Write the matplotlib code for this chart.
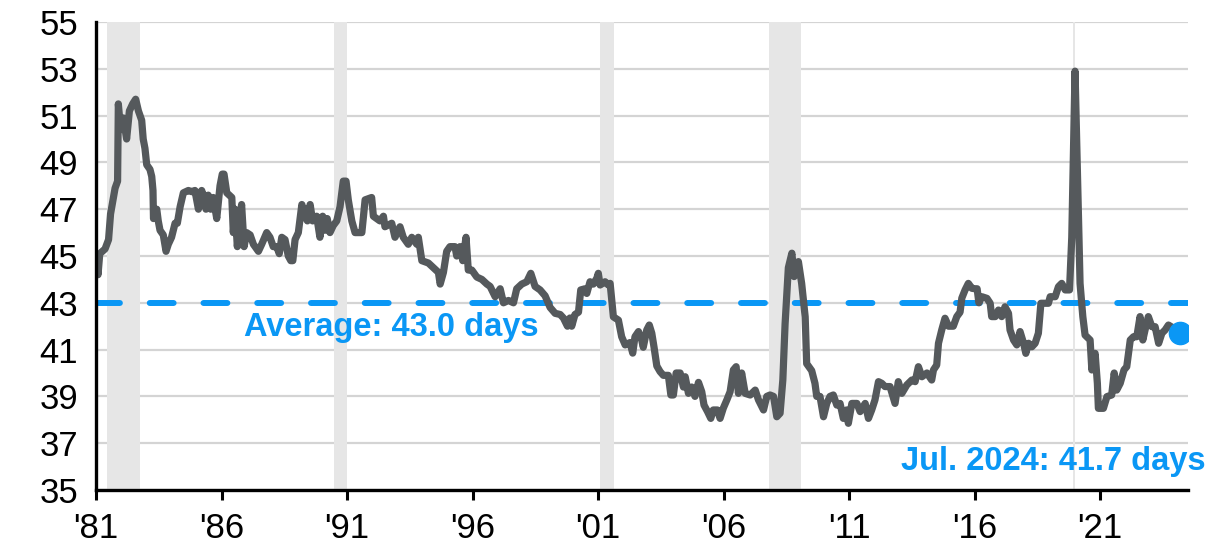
import matplotlib
matplotlib.use("Agg")
import matplotlib.pyplot as plt

plt.rcParams['font.family'] = ['Liberation Sans', 'DejaVu Sans']

# ---- data (decimal year, days) ----
years = [
    1981.03, 1981.08, 1981.15, 1981.36, 1981.50, 1981.58, 1981.76, 1981.86, 1981.89, 1981.98,
    1982.09, 1982.22, 1982.33, 1982.46, 1982.58, 1982.69, 1982.82, 1982.88, 1982.95, 1983.02,
    1983.15, 1983.22, 1983.27, 1983.29, 1983.36, 1983.42, 1983.48, 1983.55, 1983.68, 1983.79,
    1983.88, 1984.01, 1984.15, 1984.24, 1984.35, 1984.48, 1984.68, 1984.81, 1984.94, 1985.08,
    1985.21, 1985.30, 1985.38, 1985.47, 1985.57, 1985.67, 1985.81, 1985.94, 1986.03, 1986.10,
    1986.21, 1986.41, 1986.47, 1986.54, 1986.63, 1986.71, 1986.80, 1986.90, 1987.00, 1987.14,
    1987.27, 1987.47, 1987.60, 1987.80, 1987.93, 1988.06, 1988.20, 1988.30, 1988.40, 1988.53,
    1988.66, 1988.76, 1988.84, 1988.93, 1989.06, 1989.20, 1989.33, 1989.42, 1989.53, 1989.63,
    1989.79, 1989.92, 1990.03, 1990.12, 1990.21, 1990.32, 1990.45, 1990.59, 1990.72, 1990.85,
    1990.96, 1991.05, 1991.19, 1991.32, 1991.45, 1991.59, 1991.72, 1991.98, 1992.05, 1992.31,
    1992.45, 1992.51, 1992.78, 1992.91, 1993.11, 1993.24, 1993.44, 1993.58, 1993.78, 1993.84,
    1993.98, 1994.24, 1994.44, 1994.64, 1994.71, 1994.84, 1994.97, 1995.10, 1995.30, 1995.37,
    1995.50, 1995.61, 1995.74, 1995.83, 1995.97, 1996.17, 1996.37, 1996.57, 1996.70, 1996.90,
    1997.10, 1997.23, 1997.43, 1997.63, 1997.76, 1997.96, 1998.16, 1998.32, 1998.49, 1998.69,
    1998.89, 1999.09, 1999.29, 1999.49, 1999.62, 1999.78, 1999.88, 1999.95, 2000.08, 2000.22,
    2000.31, 2000.48, 2000.55, 2000.68, 2000.81, 2000.95, 2001.01, 2001.08, 2001.28, 2001.41,
    2001.48, 2001.61, 2001.81, 2001.94, 2002.08, 2002.27, 2002.38, 2002.47, 2002.61, 2002.74,
    2002.80, 2002.94, 2003.04, 2003.14, 2003.23, 2003.34, 2003.47, 2003.60, 2003.80, 2003.90,
    2004.00, 2004.11, 2004.27, 2004.40, 2004.47, 2004.60, 2004.73, 2004.86, 2005.00, 2005.13,
    2005.22, 2005.36, 2005.49, 2005.59, 2005.75, 2005.86, 2005.99, 2006.13, 2006.26, 2006.39,
    2006.50, 2006.59, 2006.72, 2006.86, 2007.06, 2007.26, 2007.39, 2007.59, 2007.72, 2007.85,
    2007.99, 2008.12, 2008.25, 2008.36, 2008.45, 2008.58, 2008.72, 2008.81, 2008.91, 2008.98,
    2009.11, 2009.25, 2009.31, 2009.51, 2009.64, 2009.71, 2009.84, 2009.98, 2010.11, 2010.24,
    2010.37, 2010.51, 2010.64, 2010.77, 2010.90, 2010.97, 2011.11, 2011.31, 2011.44, 2011.64,
    2011.77, 2011.90, 2012.03, 2012.17, 2012.30, 2012.43, 2012.63, 2012.83, 2012.96, 2013.10,
    2013.30, 2013.50, 2013.63, 2013.76, 2013.90, 2014.10, 2014.29, 2014.36, 2014.49, 2014.56,
    2014.69, 2014.82, 2014.96, 2015.15, 2015.29, 2015.42, 2015.49, 2015.62, 2015.75, 2015.89,
    2016.02, 2016.10, 2016.17, 2016.29, 2016.49, 2016.62, 2016.68, 2016.82, 2016.95, 2017.08,
    2017.21, 2017.35, 2017.41, 2017.55, 2017.68, 2017.81, 2017.95, 2018.04, 2018.15, 2018.28,
    2018.41, 2018.54, 2018.64, 2018.81, 2018.94, 2019.01, 2019.21, 2019.34, 2019.47, 2019.61,
    2019.78, 2019.87, 2020.00, 2020.20, 2020.31, 2020.40, 2020.60, 2020.67, 2020.80, 2020.89,
    2020.93, 2021.13, 2021.27, 2021.46, 2021.56, 2021.66, 2021.80, 2021.95, 2022.06, 2022.20,
    2022.33, 2022.46, 2022.59, 2022.70, 2022.79, 2022.92, 2023.06, 2023.19, 2023.33, 2023.46,
    2023.59, 2023.72, 2023.95, 2024.19,
]
days = [
    44.8, 44.2, 45.1, 45.3, 45.7, 46.8, 47.9, 48.2, 51.5, 50.4,
    50.9, 50.0, 51.2, 51.5, 51.7, 51.2, 50.8, 50.0, 49.6, 48.9,
    48.7, 48.4, 47.8, 46.6, 46.9, 47.0, 46.5, 46.1, 45.9, 45.2,
    45.5, 45.8, 46.4, 46.4, 47.1, 47.7, 47.8, 47.75, 47.8, 47.0,
    47.8, 47.5, 47.0, 47.6, 47.0, 47.5, 46.6, 48.0, 48.5, 48.5,
    47.7, 47.5, 46.0, 47.0, 45.4, 46.4, 47.2, 45.4, 46.0, 45.9,
    45.5, 45.2, 45.5, 46.0, 45.8, 45.4, 45.4, 45.1, 45.8, 45.7,
    45.0, 44.8, 44.8, 45.7, 46.0, 47.2, 46.7, 46.5, 47.2, 46.5,
    46.7, 45.8, 46.7, 46.1, 46.6, 46.0, 46.3, 46.5, 47.1, 48.2,
    48.2, 47.4, 46.5, 46.0, 46.0, 46.0, 47.4, 47.5, 46.7, 46.5,
    46.7, 46.25, 46.4, 45.8, 46.25, 45.8, 45.5, 45.8, 45.5, 45.8,
    44.8, 44.7, 44.5, 44.3, 43.8, 44.3, 45.2, 45.4, 45.4, 45.0,
    45.4, 44.8, 45.8, 44.4, 44.4, 44.1, 44.0, 43.8, 43.7, 43.26,
    43.6, 43.0, 43.1, 43.0, 43.6, 43.8, 43.9, 44.26, 43.7, 43.55,
    43.3, 42.8, 42.55, 42.5, 42.35, 42.0, 42.35, 42.0, 42.5, 42.6,
    43.55, 43.6, 43.4, 43.9, 43.8, 44.05, 44.26, 43.76, 43.9, 43.76,
    43.83, 42.4, 42.26, 41.55, 41.2, 41.3, 40.85, 41.55, 41.77, 41.4,
    41.1, 41.84, 42.05, 41.7, 41.1, 40.3, 40.06, 39.9, 39.9, 39.06,
    39.06, 40.0, 40.0, 39.4, 39.84, 39.13, 39.4, 39.0, 39.6, 39.2,
    38.63, 38.35, 38.06, 38.42, 38.42, 38.06, 38.5, 38.85, 39.2, 40.13,
    40.27, 39.13, 40.0, 39.13, 39.06, 39.27, 38.85, 38.42, 39.0, 39.06,
    39.0, 38.13, 38.28, 39.7, 42.1, 44.5, 45.12, 44.12, 44.4, 44.76,
    43.83, 42.4, 40.4, 40.1, 39.56, 39.0, 39.0, 38.13, 38.7, 39.0,
    39.06, 38.63, 38.7, 38.06, 38.42, 37.85, 38.7, 38.7, 38.35, 38.7,
    38.06, 38.42, 38.85, 39.63, 39.56, 39.42, 39.42, 38.7, 39.63, 39.13,
    39.49, 39.7, 39.63, 40.27, 39.84, 40.0, 39.7, 40.13, 40.34, 41.27,
    41.84, 42.34, 42.0, 42.0, 42.41, 42.6, 43.2, 43.55, 43.83, 43.62,
    43.6, 43.6, 43.0, 43.26, 43.19, 42.98, 42.41, 42.41, 42.69, 42.41,
    42.83, 42.55, 41.84, 41.41, 41.2, 41.77, 41.27, 40.84, 41.27, 41.12,
    41.27, 41.7, 42.98, 42.98, 42.98, 43.26, 43.26, 43.69, 43.83, 43.55,
    43.55, 45.8, 52.9, 43.83, 42.41, 41.62, 41.41, 40.13, 40.84, 39.56,
    38.49, 38.49, 38.99, 39.06, 40.0, 39.27, 39.56, 40.13, 40.27, 41.41,
    41.55, 41.55, 42.41, 41.41, 41.84, 42.41, 41.98, 41.98, 41.27, 41.7,
    41.84, 42.05, 41.9, 41.7,
]

average_value = 43.0
latest_label = "Jul. 2024: 41.7 days"
average_label = "Average: 43.0 days"

recession_starts = [1981.42, 1990.48, 2001.08, 2007.80, 2019.90]
recession_ends = [1982.75, 1991.00, 2001.64, 2009.10, 2020.00]

tick_years = [1981, 1986, 1991, 1996, 2001, 2006, 2011, 2016, 2021]
tick_labels = ["'81", "'86", "'91", "'96", "'01", "'06", "'11", "'16", "'21"]
y_ticks = [35, 37, 39, 41, 43, 45, 47, 49, 51, 53, 55]

# ---- styling ----
LINE_COLOR = '#55595C'
BLUE = '#0A97F5'
SHADE = '#E6E6E6'
GRID = '#D4D4D4'

fig = plt.figure(figsize=(12.2, 5.48), dpi=100)
W, H = 1220, 548
ax = fig.add_axes([96 / W, 1 - 490 / H, (1188 - 96) / W, (490 - 22) / H])

ax.set_xlim(1981, 2024.5)
ax.set_ylim(35, 55)

ax.set_yticks(y_ticks)
ax.set_xticks(tick_years)
ax.set_xticklabels(tick_labels)

ax.yaxis.grid(True, color=GRID, linewidth=1.6, zorder=0)
ax.set_axisbelow(True)

for s, e in zip(recession_starts, recession_ends):
    ax.axvspan(s, e, color=SHADE, linewidth=0, zorder=1)

ax.plot(years, days, color=LINE_COLOR, linewidth=5.2, solid_joinstyle='round',
        solid_capstyle='round', zorder=3)

ax.axhline(average_value, color=BLUE, linewidth=4.3, dashes=(4.0, 5.0),
           dash_capstyle='round', zorder=2)

ax.plot([years[-1]], [days[-1]], 'o', color=BLUE, markersize=16, zorder=4)

ax.text(1986.9, 41.95, average_label, color=BLUE, fontsize=23.5, fontweight='bold',
        ha='left', va='center', zorder=5)
ax.text(2025.2, 36.2, latest_label, color=BLUE, fontsize=23.5, fontweight='bold',
        ha='right', va='center', zorder=5, clip_on=False)

for side in ['top', 'right']:
    ax.spines[side].set_visible(False)
for side in ['left', 'bottom']:
    ax.spines[side].set_linewidth(2.4)
    ax.spines[side].set_color('black')
    ax.spines[side].set_zorder(6)

ax.tick_params(axis='y', length=0, labelsize=25, pad=13)
ax.tick_params(axis='x', length=7, width=2.2, direction='out', labelsize=25, pad=9)

fig.savefig('out.png', dpi=100)
